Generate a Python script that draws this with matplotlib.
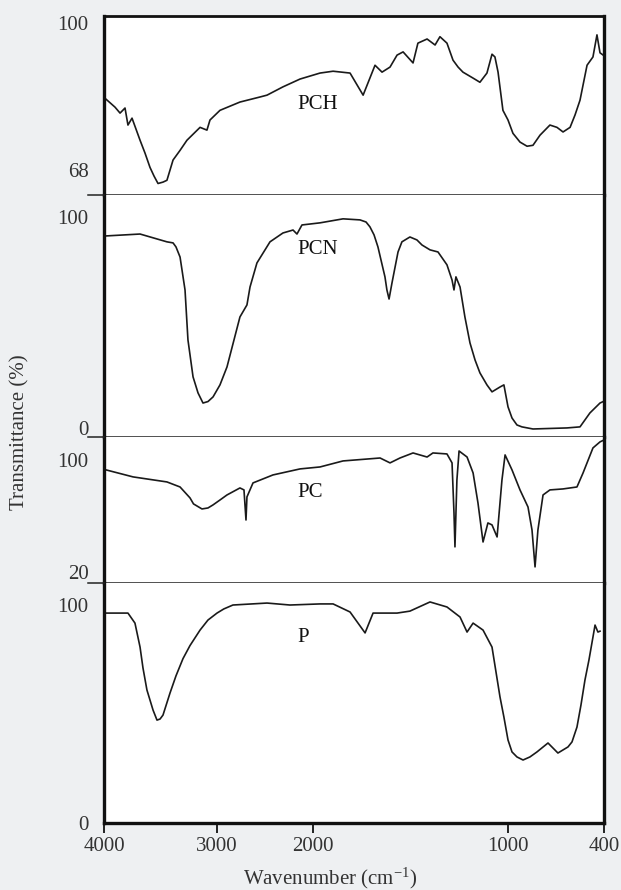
"""
FTIR spectra of P, PC, PCN and PCH stacked in four panels.
"""
import numpy as np
import matplotlib
matplotlib.use("Agg")
from matplotlib import pyplot as plt
from matplotlib.lines import Line2D

plt.rcParams['font.family'] = ['Liberation Serif', 'DejaVu Serif']
plt.rcParams['font.size'] = 15
plt.rcParams['mathtext.fontset'] = 'custom'
plt.rcParams['mathtext.rm'] = 'Liberation Serif'
plt.rcParams['mathtext.it'] = 'Liberation Serif:italic'

# wavenumber axis is compressed above 2000 cm-1
tick_w = [400, 1000, 2000, 3000, 4000]
tick_u = [0, 96, 291, 387, 500]

def fwd(w):
    return np.interp(w, tick_w, tick_u)

def inv(u):
    return np.interp(u, tick_u, tick_w)

# PCH
pch_w = [3995, 3903, 3858, 3814, 3788, 3752, 3681, 3637, 3593, 3557, 3522, 3478,
         3443, 3389, 3327, 3266, 3150, 3089, 3062, 2969, 2761, 2552, 2479, 2313,
         2135, 1964, 1897, 1810, 1743, 1682, 1646, 1605, 1569, 1538, 1487, 1462,
         1415, 1374, 1349, 1313, 1282, 1256, 1231, 1179, 1144, 1108, 1082, 1067,
         1051, 1026, 1000, 969, 925, 881, 844, 800, 738, 694, 656, 612, 581, 550,
         506, 469, 444, 425, 405]
pch_t = [83.7, 81.7, 80.4, 81.5, 77.8, 79.3, 74.5, 71.7, 68.6, 66.7, 65.1, 65.4,
         65.8, 70.2, 72.3, 74.5, 77.3, 76.7, 78.9, 81.0, 82.8, 83.9, 84.3, 86.1,
         87.8, 89.1, 89.5, 89.1, 84.3, 90.8, 89.3, 90.4, 93.0, 93.7, 91.3, 95.6,
         96.5, 95.2, 97.0, 95.6, 91.9, 90.4, 89.3, 88.0, 87.1, 89.1, 93.2, 92.6,
         89.3, 81.0, 78.9, 76.0, 74.1, 73.2, 73.4, 75.6, 77.8, 77.3, 76.3, 77.3,
         80.0, 83.2, 90.8, 92.6, 97.4, 93.5, 93.0]

# PCN
pcn_w = [3982, 3681, 3443, 3389, 3363, 3327, 3283, 3257, 3212, 3168, 3124, 3080,
         3035, 2969, 2896, 2761, 2688, 2656, 2584, 2448, 2313, 2208, 2167, 2115,
         1964, 1846, 1759, 1728, 1708, 1687, 1667, 1631, 1621, 1610, 1595, 1579,
         1564, 1544, 1503, 1467, 1441, 1400, 1359, 1313, 1287, 1277, 1267, 1246,
         1221, 1195, 1169, 1144, 1108, 1082, 1041, 1021, 1000, 975, 944, 913, 844,
         631, 550, 519, 488, 425, 405]
pcn_t = [91.0, 91.9, 88.2, 87.7, 85.8, 81.0, 65.4, 41.7, 24.2, 16.6, 11.8, 12.5,
         14.7, 20.4, 28.9, 52.6, 58.3, 66.8, 78.2, 88.2, 92.4, 93.8, 91.9, 96.2,
         97.2, 99.1, 98.6, 97.6, 95.3, 91.5, 85.8, 71.6, 65.4, 61.1, 68.7, 76.3,
         83.4, 88.2, 90.5, 89.1, 86.7, 84.4, 83.4, 77.3, 70.1, 65.4, 71.6, 66.8,
         52.6, 40.3, 32.2, 26.1, 20.4, 17.1, 19.4, 20.4, 10.0, 4.7, 1.4, 0.5, -0.5,
         0.0, 0.5, 3.8, 7.1, 11.8, 12.5]

# PC
pc_w = [3982, 3743, 3443, 3327, 3239, 3208, 3133, 3080, 3035, 2969, 2896, 2761,
        2719, 2698, 2688, 2625, 2417, 2135, 1964, 1846, 1656, 1605, 1554, 1487,
        1415, 1385, 1313, 1287, 1277, 1272, 1262, 1251, 1210, 1179, 1154, 1128,
        1103, 1082, 1056, 1031, 1015, 975, 925, 875, 850, 831, 813, 781, 738, 656,
        569, 531, 469, 425, 405]
pc_t = [92.9, 87.9, 84.3, 80.7, 72.9, 68.6, 65.0, 65.7, 67.9, 71.4, 75.0, 80.0,
        78.6, 57.1, 73.6, 83.6, 89.3, 93.6, 95.0, 99.3, 101.4, 97.9, 101.4, 105.0,
        102.1, 105.0, 104.3, 97.9, 62.1, 37.9, 85.7, 106.4, 102.1, 90.7, 69.3, 41.4,
        55.0, 53.6, 45.0, 85.7, 103.6, 92.9, 78.6, 66.4, 50.0, 23.6, 50.0, 75.0,
        78.6, 79.3, 80.7, 90.7, 108.6, 112.9, 114.0]

# P
p_w = [3982, 3788, 3726, 3681, 3655, 3620, 3566, 3531, 3504, 3478, 3416, 3363,
       3301, 3239, 3150, 3080, 3000, 2929, 2834, 2479, 2240, 1964, 1897, 1810,
       1733, 1692, 1569, 1503, 1400, 1313, 1246, 1210, 1179, 1128, 1082, 1041,
       1021, 1000, 975, 944, 906, 863, 819, 750, 688, 625, 600, 569, 544, 519,
       494, 469, 456, 438, 425]
p_t = [96.3, 96.3, 91.7, 80.7, 71.1, 61.0, 51.8, 47.2, 47.7, 49.5, 59.6, 67.5,
       75.4, 81.4, 88.5, 93.1, 96.3, 98.2, 100.0, 100.9, 100.0, 100.5, 100.5, 96.8,
       87.2, 96.3, 96.3, 97.2, 101.4, 99.1, 94.5, 87.6, 91.7, 88.5, 80.7, 57.8,
       48.6, 38.1, 32.6, 30.3, 28.9, 30.3, 32.6, 36.7, 32.1, 34.9, 37.2, 44.0,
       54.1, 65.6, 74.8, 85.3, 90.8, 87.6, 88.0]

names = ["PCH", "PCN", "PC", "P"]
xs = [pch_w, pcn_w, pc_w, p_w]
ys = [pch_t, pcn_t, pc_t, p_t]
ylims = [(62.6, 101.5), (-4.3, 110.4), (12.1, 116.4), (0, 110.1)]
yticks = [[68, 100], [0, 100], [20, 100], [0, 100]]
label_pos = [(0.386, 0.508), (0.386, 0.773), (0.386, 0.623), (0.386, 0.775)]

# panel edges in pixels (top, bottom)
W, H = 621, 890
edges = [(16, 195), (195, 437), (437, 583), (583, 823)]
x0, x1 = 104, 604

fig = plt.figure(figsize=(W/100, H/100), dpi=100, facecolor='#eef0f2')
axes = []
for i, (top, bot) in enumerate(edges):
    ax = fig.add_axes([x0/W, 1 - bot/H, (x1 - x0)/W, (bot - top)/H])
    ax.set_facecolor('white')
    ax.set_xscale('function', functions=(fwd, inv))
    ax.plot(xs[i], ys[i], color='#1a1a1a', lw=1.2)
    ax.set_xlim(4000, 400)
    ax.set_ylim(*ylims[i])
    ax.set_yticks(yticks[i])
    ax.tick_params(axis='y', length=0, pad=11, labelcolor='#333333')
    ax.text(label_pos[i][0], label_pos[i][1], names[i], transform=ax.transAxes,
            ha='left', va='center', fontsize=15, color='#111111')
    for s in ['left', 'right']:
        ax.spines[s].set_linewidth(2.4)
        ax.spines[s].set_color('#111111')
    ax.spines['top'].set_linewidth(2.0)
    ax.spines['top'].set_color('#111111')
    if i > 0:
        ax.spines['top'].set_visible(False)
    if i < 3:
        ax.spines['bottom'].set_linewidth(1.1)
        ax.spines['bottom'].set_color('#222222')
        ax.tick_params(axis='x', bottom=False, labelbottom=False)
        # separator sticks out to the left
        fig.add_artist(Line2D([88/W, x0/W], [1 - bot/H, 1 - bot/H],
                              color='#222222', lw=1.1))
    else:
        ax.spines['bottom'].set_linewidth(2.4)
        ax.spines['bottom'].set_color('#111111')
        ax.set_xticks(tick_w)
        ax.set_xticklabels([str(t) for t in tick_w])
        ax.tick_params(axis='x', direction='out', length=7, width=1.2, pad=3,
                       labelcolor='#333333')
    ax.minorticks_off()
    axes.append(ax)

fig.text(20/W, 1 - 432/H, "Transmittance (%)", rotation=90, ha='center', va='center',
         color='#333333', fontsize=15)
fig.text(330/W, 1 - 878/H, "Wavenumber (cm$^{-1}$)", ha='center', va='center',
         color='#333333', fontsize=15)

plt.savefig("out.png", dpi=100, facecolor=fig.get_facecolor())
